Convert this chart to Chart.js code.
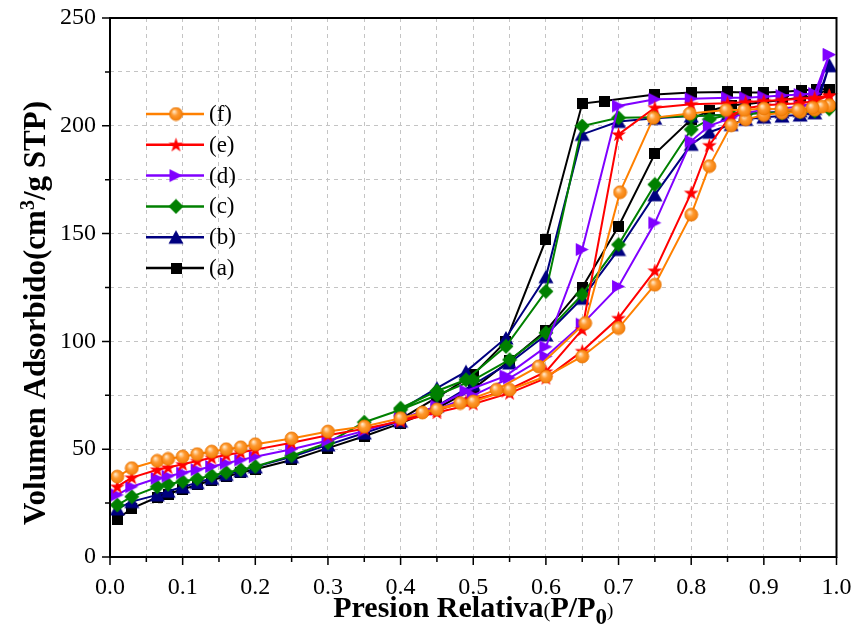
<!DOCTYPE html>
<html><head><meta charset="utf-8">
<script src="https://cdn.jsdelivr.net/npm/chart.js@4.4.0/dist/chart.umd.min.js"></script>
<style>html,body{margin:0;padding:0;background:#fff}#wrap{width:854px;height:632px}</style>
</head><body><div id="wrap"><canvas id="c" width="854" height="632"></canvas></div>
<script>
// ---- data (relative pressure P/P0, adsorbed volume cm3/g STP) ----
const P_ADS = [0.01,0.03,0.065,0.08,0.10,0.12,0.14,0.16,0.18,0.20,0.25,0.30,0.35,0.40,0.45,0.50,0.55,0.60,0.65,0.70,0.75,0.80,0.825,0.855,0.875,0.90,0.925,0.95,0.97,0.99];
const P_DES = [0.99,0.97,0.95,0.925,0.90,0.875,0.85,0.80,0.75,0.70,0.65,0.60,0.545,0.49,0.45,0.40];
const P_DES_A = [0.99,0.973,0.952,0.927,0.90,0.876,0.85,0.80,0.75,0.68,0.65,0.60,0.545,0.50,0.45,0.40];
const P_DES_F = [0.99,0.98,0.967,0.947,0.924,0.90,0.873,0.848,0.798,0.748,0.702,0.654,0.59,0.532,0.482,0.43];
const LABELS = ['(f)','(e)','(d)','(c)','(b)','(a)'];

const F_ADS = [37.3,41.2,44.6,45.5,46.6,47.7,48.9,50,50.9,52.3,55,58.2,60.5,64.4,68.5,72.1,77.6,83.7,93,106.2,126.3,158.8,181.3,200.2,203,205,206,206.5,207.5,209.5];
const F_DES = [209.5,208.9,208.4,207.3,207.6,208,207.3,207.3,205.7,203.7,169.2,108.5,88.4,77.6,71.4,67];
const E_ADS = [32.6,36.8,40.5,41.5,43,44.5,46,47.3,48.5,49.8,53,56.5,59.5,63,67,71,76,83,95.5,110.8,132.8,168.9,191,205,208,209.5,210,210.5,211.5,214];
const E_DES = [214,213,212.5,212,211.5,211,210.5,210,208.4,196,105.5,86,77,72,68,64];
const D_ADS = [28.8,32.6,36.5,37.5,39,40.5,42,43.5,45,46.5,50,54,58.5,63.5,68.5,75,83,93,108,125.5,155,192.9,200,203.7,206,207.5,208,209,211,233];
const D_DES = [233,215,214.5,214,213.5,213,213,212.5,212.3,209.2,142.6,97.5,84,77,70,64];
const C_ADS = [24.1,28,32.6,33.7,35,36.3,37.8,39.2,40.5,42,47,53,62.5,68.3,75,82,91.5,104,121.7,144.9,172.8,198.3,203,205.3,205.5,206,206,206.5,207,208];
const C_DES = [208,207,206.5,206,206,205.5,205,204.5,204,203.7,199.9,123.2,97.7,82.2,77,69];
const B_ADS = [22.3,25.7,28.8,30.5,32.5,34.5,36.5,38.3,40,41.8,46.5,52,57.5,63,70,80,90,103,120,142.6,168,191.4,197,200.6,203,204,204.5,205,206,228];
const B_DES = [228,208,207,206.5,206,205.5,205,204.5,203.5,202,196,130,101.6,86,78.3,68.3];
const A_ADS = [17.5,22.6,27.7,29.2,31.4,33.4,35.7,37.3,39.1,40.7,45,50.5,56,62,69,78,91,105,125,153.4,187,203,207,209.5,210,211,212,213,214,217];
const A_DES = [217,216.9,216.4,215.8,215.4,215.4,215.7,215.4,214.5,211.5,210.3,147.2,100,84.5,74,64];

// ---- marker images ----
function mk(w,h,draw){const c=document.createElement('canvas');c.width=w;c.height=h;draw(c.getContext('2d'));return c;}
const imgF = mk(15,15,g=>{const gr=g.createRadialGradient(5.5,5,0.5,7.5,7.5,7.5);gr.addColorStop(0,'#ffe6c4');gr.addColorStop(0.4,'#ff9a30');gr.addColorStop(1,'#f07800');g.fillStyle=gr;g.beginPath();g.arc(7.5,7.5,6.5,0,Math.PI*2);g.fill();g.strokeStyle='#e87400';g.lineWidth=0.8;g.stroke();});
const imgE = mk(17,17,g=>{g.fillStyle='#ff0000';g.beginPath();for(let i=0;i<10;i++){const r=i%2?3.0:7.8;const a=-Math.PI/2+i*Math.PI/5;const x=8.5+r*Math.cos(a),y=9+r*Math.sin(a);if(i)g.lineTo(x,y);else g.moveTo(x,y);}g.closePath();g.fill();});
const imgD = mk(15,15,g=>{g.fillStyle='#8000ff';g.beginPath();g.moveTo(1,1);g.lineTo(14,7.5);g.lineTo(1,14);g.closePath();g.fill();});
const imgC = mk(16,16,g=>{g.fillStyle='#008000';g.beginPath();g.moveTo(8,0.5);g.lineTo(15.5,8);g.lineTo(8,15.5);g.lineTo(0.5,8);g.closePath();g.fill();});
const imgB = mk(16,16,g=>{g.fillStyle='#000080';g.beginPath();g.moveTo(8,1);g.lineTo(15.5,14.5);g.lineTo(0.5,14.5);g.closePath();g.fill();});
const imgA = mk(11,11,g=>{g.fillStyle='#000';g.fillRect(0,0,11,11);});

function loop(ads, desP, des){
  return ads.map((v,i)=>({x:P_ADS[i],y:v})).concat(des.map((v,i)=>({x:desP[i],y:v})));
}
const SERIES = [
  {label:LABELS[0], color:'#ff8000', img:imgF, data:loop(F_ADS,P_DES_F,F_DES)},
  {label:LABELS[1], color:'#ff0000', img:imgE, data:loop(E_ADS,P_DES,E_DES)},
  {label:LABELS[2], color:'#8000ff', img:imgD, data:loop(D_ADS,P_DES,D_DES)},
  {label:LABELS[3], color:'#008000', img:imgC, data:loop(C_ADS,P_DES,C_DES)},
  {label:LABELS[4], color:'#000080', img:imgB, data:loop(B_ADS,P_DES,B_DES)},
  {label:LABELS[5], color:'#000000', img:imgA, data:loop(A_ADS,P_DES_A,A_DES)}
];

const SERIF = '"Liberation Serif","Times New Roman",serif';

function runs(ctx, parts, x, y){
  let cx = x;
  parts.forEach(([t,size,dy,w])=>{
    ctx.font = (w||'bold')+' '+size+'px '+SERIF;
    ctx.fillText(t, cx, y+dy);
    cx += ctx.measureText(t).width;
  });
  return cx - x;
}
function runsWidth(ctx, parts){
  let w=0; parts.forEach(([t,size,dy,wt])=>{ctx.font=(wt||'bold')+' '+size+'px '+SERIF; w+=ctx.measureText(t).width;}); return w;
}

const frame = {
  id:'frame',
  afterDatasetsDraw(chart){
    const {ctx, chartArea:a, scales:{x,y}} = chart;
    ctx.save();
    ctx.strokeStyle='#000'; ctx.lineWidth=2;
    ctx.strokeRect(a.left,a.top,a.right-a.left,a.bottom-a.top);
    ctx.lineWidth=1.5; ctx.beginPath();
    for(let i=0;i<=20;i++){const px=x.getPixelForValue(i*0.05);const L=i%2===0?8:5;ctx.moveTo(px,a.bottom);ctx.lineTo(px,a.bottom+L);}
    for(let i=0;i<=10;i++){const py=y.getPixelForValue(i*25);const L=i%2===0?8:5;ctx.moveTo(a.left,py);ctx.lineTo(a.left-L,py);}
    ctx.stroke();
    // legend
    ctx.textBaseline='middle'; ctx.textAlign='left';
    SERIES.forEach((s,i)=>{
      const yy = 114 + i*30.8;
      ctx.strokeStyle=s.color; ctx.lineWidth=2.5;
      ctx.beginPath(); ctx.moveTo(146,yy); ctx.lineTo(204,yy); ctx.stroke();
      ctx.drawImage(s.img, 176 - s.img.width/2, yy - s.img.height/2);
      ctx.fillStyle='#000'; ctx.font = '23px '+SERIF;
      ctx.fillText(s.label, 209, yy+1);
    });
    // axis titles
    ctx.fillStyle='#000'; ctx.textBaseline='alphabetic';
    const xt = [['Presion Relativa',30,0],['(',21,0,'normal'],['P/P',30,0],['0',23,7],[')',19,-1,'normal']];
    const xw = runsWidth(ctx, xt);
    runs(ctx, xt, (a.left+a.right)/2 - xw/2, 617);
    const yt = [['Volumen Adsorbido(cm',31,0],['3',20,-11],['/g STP)',31,0]];
    const yw = runsWidth(ctx, yt);
    ctx.translate(45, 313); ctx.rotate(-Math.PI/2);
    runs(ctx, yt, -yw/2, 0);
    ctx.restore();
  }
};

new Chart(document.getElementById('c'), {
  type:'line',
  data:{datasets: SERIES.map(s=>({label:s.label, data:s.data, borderColor:s.color, backgroundColor:s.color,
    borderWidth:2, pointStyle:s.img, pointRadius:6, tension:0, fill:false, clip:false}))},
  options:{
    responsive:false, animation:false, devicePixelRatio:1, events:[],
    layout:{padding:{top:18,right:17.5,left:0,bottom:0}},
    plugins:{legend:{display:false}, tooltip:{enabled:false}},
    scales:{
      x:{type:'linear', min:0, max:1,
        ticks:{stepSize:0.05, autoSkip:false, maxRotation:0, padding:16, color:'#000',
          font:{family:SERIF,size:24},
          callback:v=>{const t=Math.round(v*100);return t%10===0?(t/100).toFixed(1):'';}},
        grid:{color:'#c4c4c4', lineWidth:1, drawTicks:false},
        border:{display:false, dash:[4,4]},
        afterFit:s=>{s.height=75; s.paddingLeft=0; s.paddingRight=0;}
      },
      y:{min:0, max:250,
        ticks:{stepSize:25, autoSkip:false, padding:14, color:'#000',
          font:{family:SERIF,size:24},
          callback:v=>(v%50===0?String(v):'')},
        grid:{color:'#c4c4c4', lineWidth:1, drawTicks:false},
        border:{display:false, dash:[4,4]},
        afterFit:s=>{s.width=110; s.paddingTop=0; s.paddingBottom=0;}
      }
    }
  },
  plugins:[frame]
});
</script></body></html>
